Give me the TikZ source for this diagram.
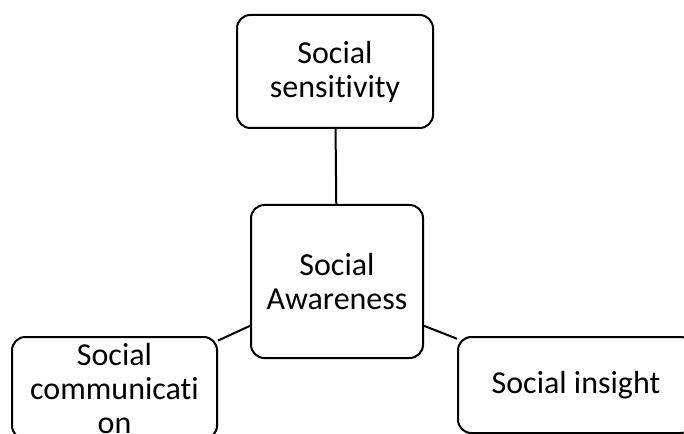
\documentclass[tikz,border=0pt]{standalone}
\usepackage{fontspec}
\setmainfont{Carlito}[Ligatures=NoCommon]
\usetikzlibrary{backgrounds}
\begin{document}
\begin{tikzpicture}[x=.75pt,y=-.75pt,
  box/.style={draw,line width=1.5pt,rounded corners=10pt,fill=white,align=center,
    font=\fontsize{24}{25.5}\selectfont,inner sep=0pt},
  link/.style={line width=1.5pt}]
\useasboundingbox (0,0) rectangle (684,434);
\clip (0,0) rectangle (684,434);
\node [box,minimum width=147pt,minimum height=84.75pt] (sens) at (335,71.5) {Social\\sensitivity};
\node [box,minimum width=129pt,minimum height=114.75pt] (aware) at (337,281.5) {Social\\Awareness};
\node [box,minimum width=153.75pt,minimum height=76.5pt] (comm) at (114.5,388) {Social\\communicati\\on};
\node [box,minimum width=177pt,minimum height=72pt] (insight) at (576,385) {Social insight};
\begin{scope}[on background layer]
\draw [link] (sens) -- (aware);
\draw [link] (aware.-153) -- (comm);
\draw [link] (aware.-27) -- (insight);
\end{scope}
\end{tikzpicture}
\end{document}
